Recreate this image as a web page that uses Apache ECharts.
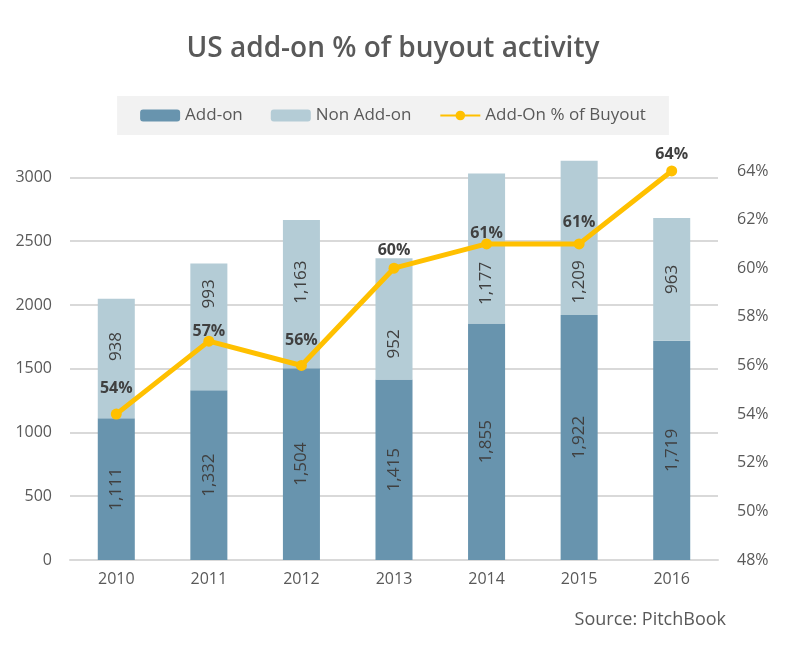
<!DOCTYPE html>
<html>
<head>
<meta charset="utf-8">
<title>US add-on % of buyout activity</title>
<script src="https://cdn.jsdelivr.net/npm/echarts@6/dist/echarts.min.js"></script>
<style>
  html, body { margin: 0; padding: 0; background: #fff; }
  #main { width: 786px; height: 658px; }
</style>
</head>
<body>
<div id="main"></div>
<script>
// data
var years = ['2010', '2011', '2012', '2013', '2014', '2015', '2016'];
var addOn = [1111, 1332, 1504, 1415, 1855, 1922, 1719];
var nonAddOn = [938, 993, 1163, 952, 1177, 1209, 963];
var addOnPct = [54, 57, 56, 60, 61, 61, 64];

// label nudges (px, screen y) so texts don't collide, like the hand-placed ones in the original
var nonLabelDy = [-12, -33, -12, 25, 35, 44, 0];
var pctLabelDy = [-1, 15, -1, 7, 14, 3, 8];

var gray = '#595959';
var fontFam = '"Open Sans", "Noto Sans", sans-serif';

function withComma(v) {
  return String(v).replace(/\B(?=(\d{3})+(?!\d))/g, ',');
}

var barLabel = {
  show: true,
  rotate: 90,
  position: 'inside',
  color: '#404040',
  fontSize: 17,
  fontFamily: fontFam,
  formatter: function (p) { return withComma(p.value); }
};

// the bar labels are rotated 90deg, so their offset works in the turned frame
var nonData = nonAddOn.map(function (v, i) {
  return { value: v, label: { offset: [-nonLabelDy[i], 0] } };
});
var pctData = addOnPct.map(function (v, i) {
  return { value: v, label: { offset: [0, pctLabelDy[i]] } };
});

var myChart = echarts.init(document.getElementById('main'));
myChart.setOption({
  animation: false,
  textStyle: { fontFamily: fontFam },
  title: {
    text: 'US add-on % of buyout activity',
    left: 'center',
    top: 30,
    textStyle: { color: gray, fontSize: 28, fontWeight: 600, fontFamily: fontFam }
  },
  legend: {
    top: 96,
    left: 'center',
    padding: [11, 23],
    backgroundColor: '#f2f2f2',
    itemWidth: 40,
    itemHeight: 12,
    itemGap: 28,
    textStyle: { color: gray, fontSize: 17, fontFamily: fontFam },
    data: ['Add-on', 'Non Add-on', 'Add-On % of Buyout']
  },
  grid: { left: 70, right: 68, top: 160, bottom: 98 },
  xAxis: {
    type: 'category',
    data: years,
    axisTick: { show: false },
    axisLine: { lineStyle: { color: '#d9d9d9', width: 2 } },
    axisLabel: { color: gray, fontSize: 16, margin: 11 }
  },
  yAxis: [
    {
      type: 'value',
      min: 0,
      max: 3137,
      interval: 500,
      axisLine: { show: false },
      axisTick: { show: false },
      axisLabel: {
        color: gray, fontSize: 16, margin: 18, showMaxLabel: false,
        formatter: function (v) { return String(v); }
      },
      splitLine: { showMaxLine: false, lineStyle: { color: '#d9d9d9', width: 2 } }
    },
    {
      type: 'value',
      min: 48,
      max: 64.45,
      interval: 2,
      position: 'right',
      axisLine: { show: false },
      axisTick: { show: false },
      splitLine: { show: false },
      axisLabel: {
        color: gray, fontSize: 16, margin: 19, showMaxLabel: false,
        formatter: function (v) { return v + '%'; }
      }
    }
  ],
  series: [
    {
      name: 'Add-on',
      type: 'bar',
      stack: 'deals',
      barWidth: '40%',
      itemStyle: { color: '#6894ae' },
      label: barLabel,
      data: addOn
    },
    {
      name: 'Non Add-on',
      type: 'bar',
      stack: 'deals',
      barWidth: '40%',
      itemStyle: { color: '#b4ccd6' },
      label: barLabel,
      data: nonData
    },
    {
      name: 'Add-On % of Buyout',
      type: 'line',
      yAxisIndex: 1,
      symbol: 'circle',
      symbolSize: 11,
      lineStyle: { color: '#ffc000', width: 5 },
      itemStyle: { color: '#ffc000' },
      label: {
        show: true,
        position: 'top',
        distance: 11,
        color: '#404040',
        fontSize: 16,
        fontWeight: 'bold',
        formatter: function (p) { return p.value + '%'; }
      },
      z: 5,
      data: pctData
    }
  ],
  graphic: [
    {
      type: 'text',
      right: 60,
      top: 611,
      style: { text: 'Source: PitchBook', fill: gray, fontSize: 18, fontFamily: fontFam }
    }
  ]
});
</script>
</body>
</html>
